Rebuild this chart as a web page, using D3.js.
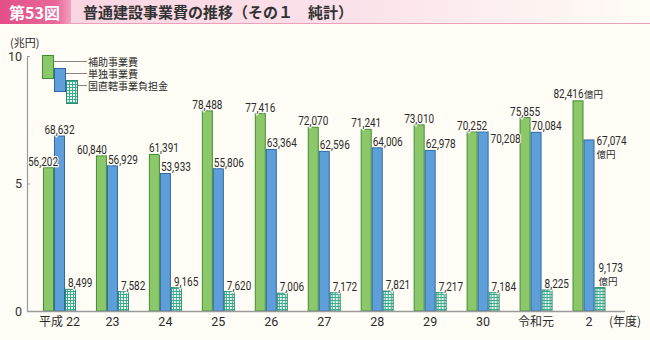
<!DOCTYPE html>
<html lang="ja">
<head>
<meta charset="utf-8">
<script src="https://cdn.jsdelivr.net/npm/d3@7/dist/d3.min.js"></script>
<style>
  html, body { margin: 0; padding: 0; background: #FFFDF6; }
  svg { display: block; }
  text { font-family: "Noto Sans CJK JP", "Noto Sans", sans-serif; fill: #2b2b2b; }
  .num { font-family: Roboto, "Noto Sans", sans-serif; }
</style>
</head>
<body>
<svg id="chart" width="650" height="340"></svg>
<script>
// 年度
const categories = ["平成22", "23", "24", "25", "26", "27", "28", "29", "30", "令和元", "2"];
// 億円
const hojo     = [56202, 60840, 61391, 78488, 77416, 72070, 71241, 73010, 70252, 75855, 82416];
const tandoku  = [68632, 56929, 53933, 55806, 63364, 62596, 64006, 62978, 70208, 70084, 67074];
const chokkatsu = [8499, 7582, 9165, 7620, 7006, 7172, 7821, 7217, 7184, 8225, 9173];
const seriesNames = ["補助事業費", "単独事業費", "国直轄事業負担金"];
const yTicks = [0, 5, 10];

const W = 650, H = 340;
const svg = d3.select("#chart");
const defs = svg.append("defs");

// header band
const hg = defs.append("linearGradient").attr("id", "hdr").attr("x1", 0).attr("x2", 1);
hg.append("stop").attr("offset", "0").attr("stop-color", "#F9D2DF");
hg.append("stop").attr("offset", "0.55").attr("stop-color", "#FBE2EA");
hg.append("stop").attr("offset", "1").attr("stop-color", "#FFFDF6");
const bg = defs.append("linearGradient").attr("id", "badge").attr("x1", 0).attr("x2", 1);
bg.append("stop").attr("offset", "0").attr("stop-color", "#E24F86");
bg.append("stop").attr("offset", "0.8").attr("stop-color", "#E8689A");
bg.append("stop").attr("offset", "1").attr("stop-color", "#F3A2BF");

// grid pattern for 国直轄事業負担金
const pat = defs.append("pattern").attr("id", "grid")
  .attr("patternUnits", "userSpaceOnUse").attr("width", 3).attr("height", 3);
pat.append("rect").attr("width", 3).attr("height", 3).attr("fill", "#3FAA8C");
pat.append("rect").attr("x", 1).attr("y", 1).attr("width", 2).attr("height", 2).attr("fill", "#EAF7F1");

svg.append("rect").attr("x", 0).attr("y", 0).attr("width", W).attr("height", 24).attr("fill", "url(#hdr)");
svg.append("line").attr("x1", 0).attr("x2", W).attr("y1", 23.5).attr("y2", 23.5)
  .attr("stroke", "#EBA0BA").attr("stroke-width", 1);
svg.append("rect").attr("x", 0).attr("y", 0).attr("width", 71).attr("height", 24).attr("fill", "url(#badge)");
svg.append("text").attr("x", 9).attr("y", 18.5).attr("font-size", 16).attr("font-weight", 700)
  .style("fill", "#fff").text("第53図");
svg.append("text").attr("x", 83).attr("y", 18).attr("font-size", 15).attr("font-weight", 700)
  .style("fill", "#333").text("普通建設事業費の推移（その１　純計）");

// scales
const x0 = d3.scaleBand().domain(categories).range([27, 621.5]).paddingInner(0.377).paddingOuter(0.302);
const x1 = d3.scaleBand().domain([0, 1, 2]).range([0, x0.bandwidth()]);
const y = d3.scaleLinear().domain([0, 10]).range([311, 56]);

const fills = ["#8CC86A", "#5F9FD9", "url(#grid)"];
const strokes = ["#3F8F35", "#2C69A6", "#2E8A72"];
const series = [hojo, tandoku, chokkatsu];

// y axis
const yAxis = svg.append("g").attr("transform", "translate(27,0)")
  .call(d3.axisLeft(y).tickValues(yTicks).tickSizeInner(-3).tickSizeOuter(0).tickPadding(5).tickFormat(d3.format("d")));
yAxis.select(".domain").attr("stroke", "#9a9a9a").attr("stroke-width", 1.2);
yAxis.selectAll(".tick line").attr("stroke", "#9a9a9a");
yAxis.selectAll(".tick text").attr("class", "num").attr("font-size", 12.5).style("fill", "#333");
svg.append("text").attr("x", 10).attr("y", 47).attr("font-size", 11).text("(兆円)");

// bars
const groups = svg.append("g").selectAll("g").data(categories).join("g")
  .attr("transform", d => `translate(${x0(d)},0)`);
series.forEach((vals, si) => {
  groups.append("rect")
    .attr("x", x1(si) + 0.5)
    .attr("width", x1.bandwidth() - 1)
    .attr("y", (d, i) => y(vals[i] / 10000))
    .attr("height", (d, i) => y(0) - y(vals[i] / 10000))
    .attr("fill", fills[si]).attr("stroke", strokes[si]).attr("stroke-width", 1);
});

// baseline
svg.append("line").attr("x1", 27).attr("x2", 625).attr("y1", 311.5).attr("y2", 311.5)
  .attr("stroke", "#9a9a9a").attr("stroke-width", 1.6);

// value labels
const fmt = d3.format(",");
const labelLayer = svg.append("g");
function numLabel(x, yy, txt, anchor) {
  return labelLayer.append("text").attr("class", "num")
    .attr("transform", `translate(${x},${yy}) scale(0.8,1)`)
    .attr("text-anchor", anchor).attr("font-size", 12.5)
    .attr("stroke", "#FFFDF6").attr("stroke-width", 2.5).attr("paint-order", "stroke")
    .attr("stroke-linejoin", "round")
    .text(txt);
}
function unitLabel(x, yy) {
  return labelLayer.append("text").attr("x", x).attr("y", yy).attr("font-size", 9.5)
    .attr("stroke", "#FFFDF6").attr("stroke-width", 2).attr("paint-order", "stroke").text("億円");
}
// placement of the 補助 and 単独 labels where they would collide
const hojoPlace = { "平成22": "endOver", "23": "end", "24": "start", "2": "endUnit" };
const tandokuPlace = { "平成22": "middle", "30": "beside", "2": "besideUnit" };

categories.forEach((c, i) => {
  const gx = x0(c);
  const bw = x1.bandwidth();
  // 補助事業費
  {
    const bx = gx + x1(0), top = y(hojo[i] / 10000), p = hojoPlace[c] || "middle";
    if (p === "middle") numLabel(bx + bw / 2, top - 2, fmt(hojo[i]), "middle");
    else if (p === "start") numLabel(bx, top - 2, fmt(hojo[i]), "start");
    else if (p === "end") numLabel(bx + bw, top - 2, fmt(hojo[i]), "end");
    else if (p === "endOver") numLabel(bx + bw + 4, top - 2, fmt(hojo[i]), "end");
    else if (p === "endUnit") { numLabel(bx + bw, top - 3, fmt(hojo[i]), "end"); unitLabel(bx + bw + 0.5, top - 3); }
  }
  // 単独事業費
  {
    const bx = gx + x1(1), top = y(tandoku[i] / 10000), p = tandokuPlace[c] || "start";
    if (p === "start") numLabel(bx + 1, top - 2, fmt(tandoku[i]), "start");
    else if (p === "middle") numLabel(bx + bw / 2, top - 2, fmt(tandoku[i]), "middle");
    else if (p === "beside") numLabel(bx + bw + 2, top + 11, fmt(tandoku[i]), "start");
    else if (p === "besideUnit") { numLabel(bx + bw + 2, top + 5, fmt(tandoku[i]), "start"); unitLabel(bx + bw + 2, top + 18); }
  }
  // 国直轄事業負担金
  {
    const bx = gx + x1(2), top = y(chokkatsu[i] / 10000);
    if (c === "2") { numLabel(bx + 4, top - 16, fmt(chokkatsu[i]), "start"); unitLabel(bx + 4, top - 3); }
    else numLabel(bx + 3, top - 2, fmt(chokkatsu[i]), "start");
  }
});

// x labels
const xl = svg.append("g");
categories.forEach((c, i) => {
  const cx = x0(c) + x0.bandwidth() / 2;
  const t = xl.append("text").attr("x", cx).attr("y", 326).attr("text-anchor", "middle").attr("font-size", 12.5);
  const m = c.match(/^(平成)(\d+)$/);
  if (m) {
    t.append("tspan").attr("font-size", 12).text(m[1]);
    t.append("tspan").attr("class", "num").attr("dx", 3).text(m[2]);
  } else if (/^\d+$/.test(c)) {
    t.attr("class", "num").text(c);
  } else {
    t.attr("font-size", 12).text(c);
  }
});
svg.append("text").attr("x", 609).attr("y", 326).attr("font-size", 12).text("(年度)");

// legend
const lg = svg.append("g");
const legBoxes = [
  { x: 42, y: 55, ty: 65.5 },
  { x: 54, y: 68, ty: 77.5 },
  { x: 66, y: 80, ty: 89.5 }
];
seriesNames.forEach((name, si) => {
  const b = legBoxes[si];
  lg.append("line").attr("x1", b.x + 12).attr("x2", 87).attr("y1", b.ty - 4).attr("y2", b.ty - 4)
    .attr("stroke", "#666").attr("stroke-width", 0.8);
  lg.append("rect").attr("x", b.x + 0.5).attr("y", b.y + 0.5).attr("width", 11).attr("height", 23)
    .attr("fill", fills[si]).attr("stroke", strokes[si]);
  lg.append("text").attr("x", 88).attr("y", b.ty).attr("font-size", 10).text(name);
});
</script>
</body>
</html>
